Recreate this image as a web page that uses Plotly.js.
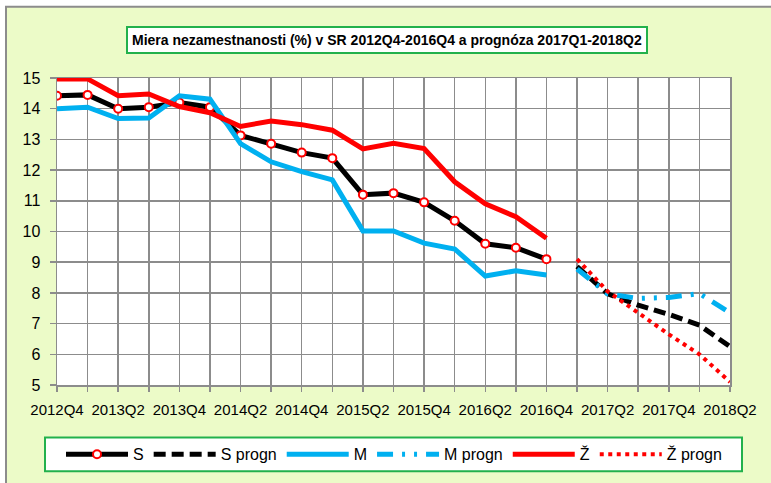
<!DOCTYPE html>
<html>
<head>
<meta charset="utf-8">
<script src="https://cdn.plot.ly/plotly-3.0.1.min.js"></script>
<style>
  html, body { margin: 0; padding: 0; background: #ffffff; }
  #chart { width: 771px; height: 483px; }
</style>
</head>
<body>
<div id="chart"></div>
<script>
// ---- data ----
const quarters = ['2012Q4','2013Q1','2013Q2','2013Q3','2013Q4','2014Q1','2014Q2','2014Q3','2014Q4',
                  '2015Q1','2015Q2','2015Q3','2015Q4','2016Q1','2016Q2','2016Q3','2016Q4',
                  '2017Q1','2017Q2','2017Q3','2017Q4','2018Q1','2018Q2'];
const tickLabels = ['2012Q4','2013Q2','2013Q4','2014Q2','2014Q4','2015Q2','2015Q4','2016Q2','2016Q4','2017Q2','2017Q4','2018Q2'];
const histQ = quarters.slice(0, 17);
const progQ = quarters.slice(17);

const S      = [14.42,14.45,14.0,14.05,14.2,14.05,13.13,12.86,12.57,12.39,11.2,11.25,10.95,10.35,9.6,9.47,9.1];
const Sprogn = [8.86,7.97,7.6,7.3,6.95,6.25];
const M      = [14.0,14.05,13.68,13.7,14.42,14.31,12.86,12.27,11.95,11.68,10.02,10.02,9.62,9.43,8.55,8.72,8.58];
const Mprogn = [8.78,7.97,7.82,7.85,7.98,7.35];
const Z      = [14.97,14.97,14.42,14.48,14.07,13.87,13.42,13.6,13.48,13.3,12.69,12.87,12.7,11.62,10.9,10.48,9.78];
const Zprogn = [9.1,8.05,7.35,6.65,6.0,5.1];

const seriesNames = ['S','S progn','M','M progn','Ž','Ž progn'];
const titleText = 'Miera nezamestnanosti (%) v SR 2012Q4-2016Q4 a prognóza 2017Q1-2018Q2';

// ---- geometry helpers ----
const W = 771, H = 483, ML = 57, MR = 41, MT = 78, MB = 95;
const PW = W - ML - MR, PH = H - MT - MB;
const px = x => (x - ML) / PW;
const py = y => (H - MB - y) / PH;

const FONT = 'Liberation Sans, Arial, sans-serif';
const BLACK = '#000000', BLUE = '#00B0F0', RED = '#FF0000';
const GRID = '#8c8c8c', GREEN = '#22B14C';

const traces = [
  {x: histQ, y: S, name: seriesNames[0], mode: 'lines+markers',
   line: {color: BLACK, width: 5},
   marker: {symbol: 'circle', size: 8, color: '#ffffff', line: {color: RED, width: 2}}},
  {x: progQ, y: Sprogn, name: seriesNames[1], mode: 'lines',
   line: {color: BLACK, width: 5, dash: '12px,6px'}},
  {x: histQ, y: M, name: seriesNames[2], mode: 'lines',
   line: {color: BLUE, width: 5}},
  {x: progQ, y: Mprogn, name: seriesNames[3], mode: 'lines',
   line: {color: BLUE, width: 5, dash: '16px,9px,3px,9px,3px,9px'}},
  {x: histQ, y: Z, name: seriesNames[4], mode: 'lines',
   line: {color: RED, width: 5}},
  {x: progQ, y: Zprogn, name: seriesNames[5], mode: 'lines',
   line: {color: RED, width: 4, dash: '4px,4.5px'}}
];

const layout = {
  width: W, height: H,
  margin: {l: ML, r: MR, t: MT, b: MB, pad: 0},
  paper_bgcolor: '#ffffff',
  plot_bgcolor: 'rgba(0,0,0,0)',
  font: {family: FONT, size: 15, color: '#000000'},
  showlegend: true,
  xaxis: {
    type: 'category', categoryorder: 'array', categoryarray: quarters,
    range: [0, quarters.length - 1],
    tickmode: 'array', tickvals: quarters,
    ticktext: quarters.map(q => tickLabels.includes(q) ? q : ''),
    tickangle: 0,
    showgrid: true, gridcolor: GRID, gridwidth: 1.5,
    showline: true, linecolor: GRID, linewidth: 1.5, mirror: true,
    ticks: 'outside', ticklen: 5, tickcolor: GRID, tickwidth: 1.5,
    ticklabelstandoff: 5,
    tickfont: {family: FONT, size: 15, color: '#000'},
    zeroline: false, fixedrange: true
  },
  yaxis: {
    range: [5, 15], dtick: 1, tick0: 5,
    showgrid: true, gridcolor: GRID, gridwidth: 1.5,
    showline: true, linecolor: GRID, linewidth: 1.5, mirror: true,
    ticks: 'outside', ticklen: 6, tickcolor: GRID, tickwidth: 1.5,
    ticklabelstandoff: 6,
    tickfont: {family: FONT, size: 16, color: '#000'},
    zeroline: false, fixedrange: true
  },
  legend: {
    orientation: 'h',
    x: px(61), xanchor: 'left',
    y: py(458), yanchor: 'middle',
    bgcolor: 'rgba(0,0,0,0)', borderwidth: 0,
    font: {family: FONT, size: 16, color: '#000'},
    itemwidth: 62, traceorder: 'normal'
  },
  shapes: [
    {type: 'rect', xref: 'paper', yref: 'paper', layer: 'below',
     x0: px(6), x1: px(W + 10), y0: py(6), y1: py(H + 10),
     fillcolor: '#ECFBC8', line: {color: GRID, width: 2}},
    {type: 'rect', xref: 'paper', yref: 'paper', layer: 'below',
     x0: 0, x1: 1, y0: 0, y1: 1,
     fillcolor: '#ffffff', line: {width: 0}},
    {type: 'rect', xref: 'paper', yref: 'paper', layer: 'above',
     x0: px(45), x1: px(742), y0: py(441), y1: py(475),
     fillcolor: '#ffffff', line: {color: GREEN, width: 2}}
  ],
  annotations: [
    {xref: 'paper', yref: 'paper', x: px(387), y: py(40), xanchor: 'center', yanchor: 'middle',
     text: '<b>' + titleText + '</b>', showarrow: false,
     font: {family: FONT, size: 14, color: '#000'},
     bgcolor: '#ffffff', bordercolor: GREEN, borderwidth: 2, borderpad: 4}
  ]
};

Plotly.newPlot('chart', traces, layout, {displayModeBar: false, staticPlot: true});
</script>
</body>
</html>
